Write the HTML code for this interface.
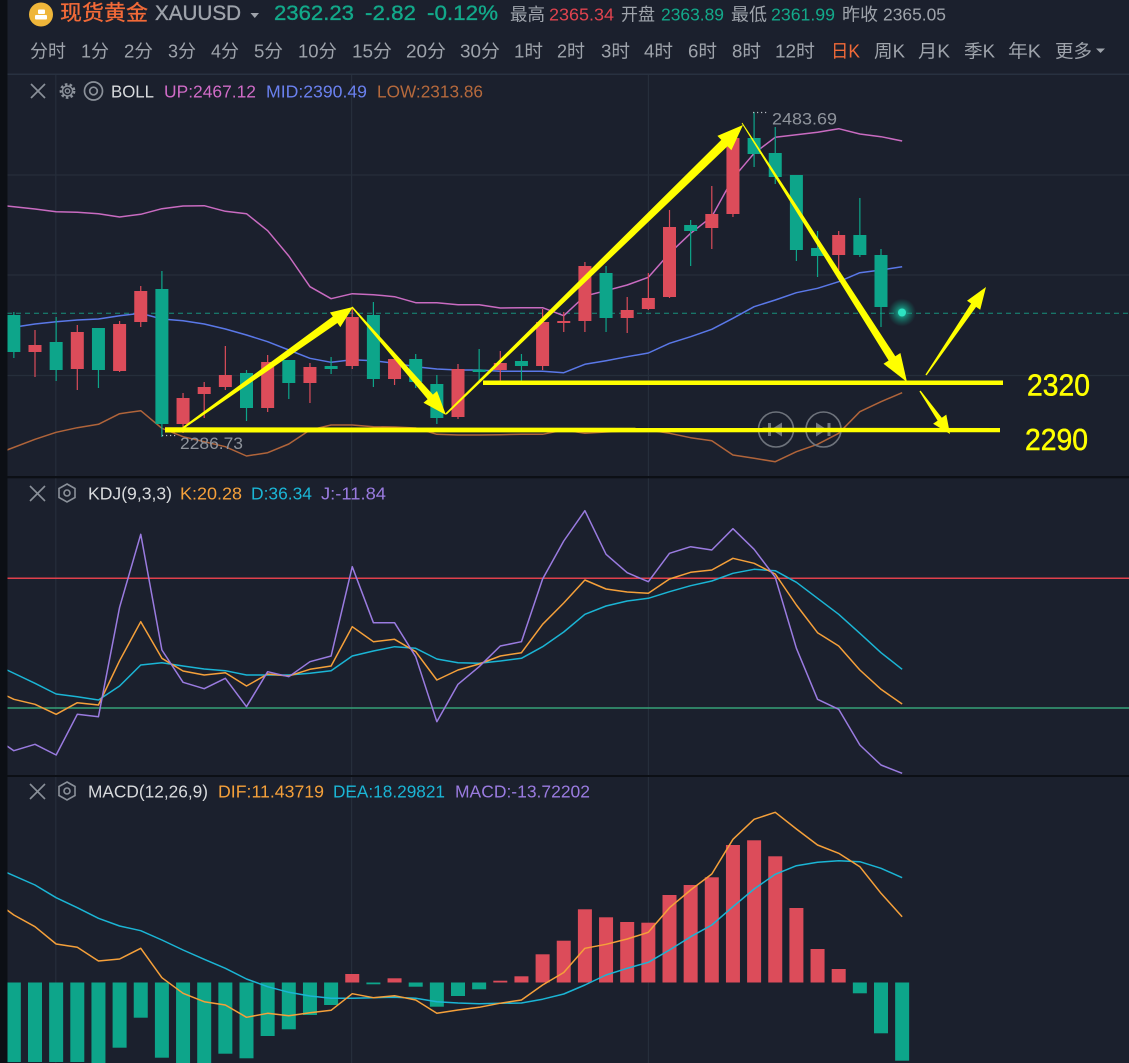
<!DOCTYPE html>
<html><head><meta charset="utf-8">
<style>
html,body{margin:0;padding:0;background:#1b202d;}
svg{display:block;}
text{font-family:"Liberation Sans","Noto Sans CJK SC",sans-serif;}
</style></head>
<body>
<svg width="1129" height="1063" viewBox="0 0 1129 1063" xmlns="http://www.w3.org/2000/svg">
<defs>
<radialGradient id="glow" cx="50%" cy="50%" r="50%">
<stop offset="0" stop-color="#26dcb9" stop-opacity="1"/>
<stop offset="0.4" stop-color="#14b093" stop-opacity="0.6"/>
<stop offset="1" stop-color="#0f8f78" stop-opacity="0"/>
</radialGradient>
</defs>
<rect x="0" y="0" width="1129" height="1063" fill="#1b202d"/>

<!-- header -->
<circle cx="41" cy="14.5" r="12" fill="#efb63a"/>
<rect x="35" y="15" width="12" height="4.5" rx="1" fill="#fff"/>
<rect x="38" y="9.5" width="7" height="4.5" rx="1" fill="#fff"/>
<g stroke-width="0.35">
<text x="60" y="20" font-size="21" fill="#f26a38" stroke="#f26a38" textLength="88" lengthAdjust="spacingAndGlyphs">现货黄金</text>
<text x="155" y="20" font-size="21" fill="#9ea3ab" stroke="#9ea3ab" textLength="86" lengthAdjust="spacingAndGlyphs">XAUUSD</text>
<text x="274" y="20" font-size="21" fill="#13a98a" stroke="#13a98a" textLength="80" lengthAdjust="spacingAndGlyphs">2362.23</text>
<text x="365" y="20" font-size="21" fill="#13a98a" stroke="#13a98a" textLength="51" lengthAdjust="spacingAndGlyphs">-2.82</text>
<text x="427" y="20" font-size="21" fill="#13a98a" stroke="#13a98a" textLength="71" lengthAdjust="spacingAndGlyphs">-0.12%</text>
</g>
<polygon points="250.5,13 259,13 254.8,18" fill="#9ea3ab"/>
<g font-size="17.5">
<text x="510" y="20.5" fill="#9ea3ab" textLength="35" lengthAdjust="spacingAndGlyphs">最高</text>
<text x="549" y="20.5" fill="#e0434f" textLength="65" lengthAdjust="spacingAndGlyphs">2365.34</text>
<text x="621" y="20.5" fill="#9ea3ab" textLength="34" lengthAdjust="spacingAndGlyphs">开盘</text>
<text x="661" y="20.5" fill="#13a98a" textLength="63" lengthAdjust="spacingAndGlyphs">2363.89</text>
<text x="731" y="20.5" fill="#9ea3ab" textLength="36" lengthAdjust="spacingAndGlyphs">最低</text>
<text x="771" y="20.5" fill="#13a98a" textLength="64" lengthAdjust="spacingAndGlyphs">2361.99</text>
<text x="842" y="20.5" fill="#9ea3ab" textLength="36" lengthAdjust="spacingAndGlyphs">昨收</text>
<text x="883" y="20.5" fill="#9ea3ab" textLength="63" lengthAdjust="spacingAndGlyphs">2365.05</text>
</g>
<g font-size="18" fill="#9ea3ab">
<text x="30" y="57.5" textLength="36" lengthAdjust="spacingAndGlyphs">分时</text>
<text x="81" y="57.5" textLength="28" lengthAdjust="spacingAndGlyphs">1分</text>
<text x="124" y="57.5" textLength="29" lengthAdjust="spacingAndGlyphs">2分</text>
<text x="168" y="57.5" textLength="28" lengthAdjust="spacingAndGlyphs">3分</text>
<text x="211" y="57.5" textLength="28" lengthAdjust="spacingAndGlyphs">4分</text>
<text x="254" y="57.5" textLength="29" lengthAdjust="spacingAndGlyphs">5分</text>
<text x="298" y="57.5" textLength="39" lengthAdjust="spacingAndGlyphs">10分</text>
<text x="352" y="57.5" textLength="40" lengthAdjust="spacingAndGlyphs">15分</text>
<text x="406" y="57.5" textLength="40" lengthAdjust="spacingAndGlyphs">20分</text>
<text x="460" y="57.5" textLength="40" lengthAdjust="spacingAndGlyphs">30分</text>
<text x="514" y="57.5" textLength="29" lengthAdjust="spacingAndGlyphs">1时</text>
<text x="557" y="57.5" textLength="28" lengthAdjust="spacingAndGlyphs">2时</text>
<text x="601" y="57.5" textLength="29" lengthAdjust="spacingAndGlyphs">3时</text>
<text x="644" y="57.5" textLength="29" lengthAdjust="spacingAndGlyphs">4时</text>
<text x="688" y="57.5" textLength="29" lengthAdjust="spacingAndGlyphs">6时</text>
<text x="732" y="57.5" textLength="29" lengthAdjust="spacingAndGlyphs">8时</text>
<text x="775" y="57.5" textLength="40" lengthAdjust="spacingAndGlyphs">12时</text>
<text x="831" y="57.5" textLength="29" lengthAdjust="spacingAndGlyphs" fill="#f26a38">日K</text>
<text x="874" y="57.5" textLength="31" lengthAdjust="spacingAndGlyphs">周K</text>
<text x="918" y="57.5" textLength="32" lengthAdjust="spacingAndGlyphs">月K</text>
<text x="964" y="57.5" textLength="31" lengthAdjust="spacingAndGlyphs">季K</text>
<text x="1008" y="57.5" textLength="33" lengthAdjust="spacingAndGlyphs">年K</text>
<text x="1055" y="57.5" textLength="37" lengthAdjust="spacingAndGlyphs">更多</text>
</g>
<polygon points="1096,48.5 1105,48.5 1100.5,53" fill="#9ea3ab"/>
<rect x="0" y="73.5" width="1129" height="1.5" fill="#283140"/>

<!-- grid -->
<g stroke="#262e3b" stroke-width="1.2">
<line x1="55.8" y1="75" x2="55.8" y2="1063"/>
<line x1="351.6" y1="75" x2="351.6" y2="1063"/>
<line x1="648.4" y1="75" x2="648.4" y2="1063"/>
<line x1="0" y1="175" x2="1129" y2="175"/>
<line x1="0" y1="275" x2="1129" y2="275"/>
<line x1="0" y1="375.5" x2="1129" y2="375.5"/>
</g>

<!-- BOLL legend -->
<g stroke="#8a9099" stroke-width="1.7" fill="none">
<line x1="31" y1="84" x2="45" y2="98"/><line x1="45" y1="84" x2="31" y2="98"/>
<circle cx="67.5" cy="91" r="6.3" stroke-dasharray="2.4 2.1" stroke-width="3.2"/>
<circle cx="67.5" cy="91" r="5" stroke-width="1.4"/>
<circle cx="67.5" cy="91" r="2.2" stroke-width="1.4"/>
<circle cx="93.5" cy="91" r="9"/>
<circle cx="93.5" cy="91" r="3.8"/>
</g>
<g font-size="17.5">
<text x="111" y="97.5" fill="#d8dadd" textLength="43" lengthAdjust="spacingAndGlyphs">BOLL</text>
<text x="164" y="97.5" fill="#cf6bc6" textLength="92" lengthAdjust="spacingAndGlyphs">UP:2467.12</text>
<text x="266" y="97.5" fill="#6a80ee" textLength="101" lengthAdjust="spacingAndGlyphs">MID:2390.49</text>
<text x="377" y="97.5" fill="#b5693c" textLength="106" lengthAdjust="spacingAndGlyphs">LOW:2313.86</text>
</g>

<!-- dashed current price line -->
<line x1="7" y1="313.3" x2="1129" y2="313.3" stroke="#17907c" stroke-width="1" stroke-dasharray="5 4"/>

<!-- BOLL lines -->
<g fill="none" stroke-width="1.5" stroke-linejoin="round">
<polyline stroke="#c96bc1" points="7,206 35,209 56.15,211.7 77.3,212.3 98.45,213.7 119.6,217 140.75,214.3 161.9,208.7 183.05,206 204.2,205.7 225.35,211.3 246.5,213.7 267.65,230.7 288.8,256 309.95,286.7 331.1,298.7 352.25,293.7 373.4,294.7 394.55,296.7 415.7,302.7 436.85,302.7 458,304.7 479.15,304.7 500.3,308 521.45,307.7 542.6,307.7 563.75,315.7 584.9,296 606.05,290.7 627.2,285 648.35,277.3 669.5,253.3 690.65,233.3 711.8,216.7 732.95,178.3 754.1,153.3 775.25,137.3 796.4,134.7 817.55,132.3 838.7,128.7 859.85,134 881,136.7 902.15,141"/>
<polyline stroke="#5a78e8" points="7,328.3 35,324 56.15,321.7 77.3,320 98.45,319 119.6,315.7 140.75,313.3 161.9,319 183.05,320.7 204.2,324 225.35,329 246.5,335 267.65,341.7 288.8,350 309.95,358.3 331.1,362.3 352.25,359.7 373.4,360.7 394.55,363.3 415.7,366.7 436.85,369 458,370 479.15,370 500.3,371.3 521.45,371.3 542.6,371.3 563.75,372.7 584.9,364.3 606.05,360.7 627.2,356.7 648.35,353 669.5,343.3 690.65,336.7 711.8,329.3 732.95,318.3 754.1,306.7 775.25,300 796.4,292.7 817.55,288.3 838.7,281.7 859.85,272.7 881,270 902.15,266.7"/>
<polyline stroke="#b0643a" points="7,450 35,439.3 56.15,432.3 77.3,427.7 98.45,424.3 119.6,413.7 140.75,410.7 161.9,428.3 183.05,436.7 204.2,441.7 225.35,446.7 246.5,456 267.65,452.7 288.8,444 309.95,430 331.1,425 352.25,425 373.4,426.7 394.55,427 415.7,428 436.85,434.3 458,435 479.15,435 500.3,434.7 521.45,434.3 542.6,434.3 563.75,430 584.9,433.3 606.05,432 627.2,431 648.35,430 669.5,433.3 690.65,437.7 711.8,440.7 732.95,455 754.1,458.3 775.25,461.7 796.4,451.7 817.55,444.3 838.7,433.3 859.85,411.7 881,401.7 902.15,392.7"/>
</g>

<!-- candles -->
<g stroke="#0da58a" stroke-width="1.2">
<line x1="13.85" y1="312" x2="13.85" y2="358"/>
<line x1="56.15" y1="317" x2="56.15" y2="381"/>
<line x1="98.45" y1="328" x2="98.45" y2="388"/>
<line x1="161.9" y1="271" x2="161.9" y2="437"/>
<line x1="246.5" y1="370" x2="246.5" y2="421"/>
<line x1="288.8" y1="360" x2="288.8" y2="399"/>
<line x1="331.1" y1="357" x2="331.1" y2="374"/>
<line x1="373.4" y1="302" x2="373.4" y2="387"/>
<line x1="415.7" y1="354" x2="415.7" y2="388"/>
<line x1="436.85" y1="375" x2="436.85" y2="424"/>
<line x1="479.15" y1="349" x2="479.15" y2="383"/>
<line x1="521.45" y1="354" x2="521.45" y2="382"/>
<line x1="606.05" y1="266" x2="606.05" y2="332"/>
<line x1="690.65" y1="220" x2="690.65" y2="266"/>
<line x1="754.1" y1="112" x2="754.1" y2="167"/>
<line x1="775.25" y1="127" x2="775.25" y2="184"/>
<line x1="796.4" y1="175" x2="796.4" y2="261"/>
<line x1="817.55" y1="231" x2="817.55" y2="277"/>
<line x1="859.85" y1="198" x2="859.85" y2="257"/>
<line x1="881" y1="249" x2="881" y2="327"/>
</g>
<g fill="#0da58a">
<rect x="7.35" y="315" width="13" height="37"/>
<rect x="49.65" y="342" width="13" height="28"/>
<rect x="91.95" y="328" width="13" height="42"/>
<rect x="155.4" y="289" width="13" height="135"/>
<rect x="240" y="373" width="13" height="35"/>
<rect x="282.3" y="360" width="13" height="23"/>
<rect x="324.6" y="366" width="13" height="3"/>
<rect x="366.9" y="315" width="13" height="64"/>
<rect x="409.2" y="359" width="13" height="23"/>
<rect x="430.35" y="384" width="13" height="34"/>
<rect x="472.65" y="369.5" width="13" height="2.5"/>
<rect x="514.95" y="361" width="13" height="5"/>
<rect x="599.55" y="273" width="13" height="45"/>
<rect x="684.15" y="225" width="13" height="6"/>
<rect x="747.6" y="138" width="13" height="16"/>
<rect x="768.75" y="153" width="13" height="24"/>
<rect x="789.9" y="175" width="13" height="75"/>
<rect x="811.05" y="248" width="13" height="8"/>
<rect x="853.35" y="235" width="13" height="20"/>
<rect x="874.5" y="255" width="13" height="52"/>
</g>
<g stroke="#dc4c5a" stroke-width="1.2">
<line x1="35" y1="330" x2="35" y2="377"/>
<line x1="77.3" y1="325" x2="77.3" y2="390"/>
<line x1="119.6" y1="321" x2="119.6" y2="372"/>
<line x1="140.75" y1="286" x2="140.75" y2="327"/>
<line x1="183.05" y1="393" x2="183.05" y2="433"/>
<line x1="204.2" y1="382" x2="204.2" y2="418"/>
<line x1="225.35" y1="346" x2="225.35" y2="390"/>
<line x1="267.65" y1="355" x2="267.65" y2="412"/>
<line x1="309.95" y1="363" x2="309.95" y2="403"/>
<line x1="352.25" y1="307" x2="352.25" y2="369"/>
<line x1="394.55" y1="358" x2="394.55" y2="385"/>
<line x1="458" y1="364" x2="458" y2="419"/>
<line x1="500.3" y1="351" x2="500.3" y2="382"/>
<line x1="542.6" y1="309" x2="542.6" y2="370"/>
<line x1="563.75" y1="312" x2="563.75" y2="332"/>
<line x1="584.9" y1="262" x2="584.9" y2="332"/>
<line x1="627.2" y1="297" x2="627.2" y2="333"/>
<line x1="648.35" y1="273" x2="648.35" y2="310"/>
<line x1="669.5" y1="210" x2="669.5" y2="298"/>
<line x1="711.8" y1="186" x2="711.8" y2="249"/>
<line x1="732.95" y1="138" x2="732.95" y2="217"/>
<line x1="838.7" y1="231" x2="838.7" y2="270"/>
</g>
<g fill="#dc4c5a">
<rect x="28.5" y="345" width="13" height="7"/>
<rect x="70.8" y="332" width="13" height="37"/>
<rect x="113.1" y="324" width="13" height="47"/>
<rect x="134.25" y="291" width="13" height="31"/>
<rect x="176.55" y="398" width="13" height="26"/>
<rect x="197.7" y="387" width="13" height="7"/>
<rect x="218.85" y="375" width="13" height="12"/>
<rect x="261.15" y="362" width="13" height="46"/>
<rect x="303.45" y="367" width="13" height="16"/>
<rect x="345.75" y="317" width="13" height="49"/>
<rect x="388.05" y="359" width="13" height="20"/>
<rect x="451.5" y="369" width="13" height="48"/>
<rect x="493.8" y="363" width="13" height="7"/>
<rect x="536.1" y="322" width="13" height="44"/>
<rect x="557.25" y="321" width="13" height="2"/>
<rect x="578.4" y="266" width="13" height="55"/>
<rect x="620.7" y="310" width="13" height="8"/>
<rect x="641.85" y="298" width="13" height="11"/>
<rect x="663" y="227" width="13" height="70"/>
<rect x="705.3" y="214" width="13" height="14"/>
<rect x="726.45" y="138" width="13" height="76"/>
<rect x="832.2" y="235" width="13" height="20"/>
</g>

<!-- glow dot -->
<circle cx="902" cy="312.5" r="14" fill="url(#glow)"/>
<circle cx="902" cy="312.5" r="4" fill="#2ee3c2"/>

<!-- hi/lo labels -->
<line x1="162" y1="435.5" x2="178" y2="435.5" stroke="#b8bcc2" stroke-width="1.2" stroke-dasharray="1.2 2.8"/>
<text x="180" y="449" font-size="17" fill="#8f949c" textLength="63" lengthAdjust="spacingAndGlyphs">2286.73</text>
<line x1="753" y1="112.5" x2="769" y2="112.5" stroke="#b8bcc2" stroke-width="1.2" stroke-dasharray="1.2 2.8"/>
<text x="772" y="124.5" font-size="17" fill="#8f949c" textLength="65" lengthAdjust="spacingAndGlyphs">2483.69</text>

<!-- playback buttons -->
<g stroke="#6e737c" stroke-width="1.6" fill="none">
<circle cx="776" cy="429.5" r="17.5"/>
<circle cx="823.5" cy="429.5" r="17.5"/>
</g>
<g fill="#70757e">
<rect x="768" y="423" width="3" height="13"/>
<polygon points="771,429.5 782,422.5 782,436.5"/>
<polygon points="816,422.5 827,429.5 816,436.5"/>
<rect x="827.5" y="423" width="3" height="13"/>
</g>

<!-- yellow annotations -->
<g fill="#ffff00">
<rect x="483" y="380.5" width="520" height="4.5"/>
<polygon points="165,427.3 1000,428 1000,432.2 165,432.5"/>
<polygon points="183.6,428.8 337.4,323.0 340.3,327.1 353,307 329.9,312.5 332.8,316.5 182.4,427.2"/>
<polygon points="351.5,307.5 427.6,399.2 423.5,402.8 446,415 437.0,391.0 432.9,394.6 352.5,306.5"/>
<polygon points="446.6,414.6 727.5,146.3 731.4,150.3 743,125 717.4,135.9 721.3,139.9 445.4,413.4"/>
<polygon points="741.6,123.3 888.6,360.5 883.5,363.8 907,382 900.4,353.0 895.3,356.3 742.4,122.7"/>
<polygon points="926.6,375.4 976.1,306.9 980.2,309.7 986,287 967.0,300.7 971.1,303.5 925.4,374.6"/>
<polygon points="919.4,391.4 937.6,420.6 933.1,423.8 950,434 946.3,414.6 941.8,417.8 920.6,390.6"/>
</g>
<g stroke="#ffff00" stroke-width="0.5">
<text x="1027" y="395.5" font-size="31" fill="#ffff00" textLength="63" lengthAdjust="spacingAndGlyphs">2320</text>
<text x="1025" y="450" font-size="31" fill="#ffff00" textLength="63" lengthAdjust="spacingAndGlyphs">2290</text>
</g>

<!-- panel separators -->
<rect x="0" y="476" width="1129" height="2.3" fill="#0c0f15"/>
<rect x="0" y="775" width="1129" height="2" fill="#0c0f15"/>

<!-- KDJ -->
<g stroke="#8a9099" stroke-width="1.6" fill="none">
<line x1="30" y1="486" x2="45" y2="501"/><line x1="45" y1="486" x2="30" y2="501"/>
<polygon points="67,484 75,488.5 75,497.5 67,502 59,497.5 59,488.5"/>
<circle cx="67" cy="493" r="3"/>
</g>
<g font-size="17.5">
<text x="88" y="499.5" fill="#d8dadd" textLength="84" lengthAdjust="spacingAndGlyphs">KDJ(9,3,3)</text>
<text x="180" y="499.5" fill="#f5a03a" textLength="62" lengthAdjust="spacingAndGlyphs">K:20.28</text>
<text x="251" y="499.5" fill="#1bb5d5" textLength="61" lengthAdjust="spacingAndGlyphs">D:36.34</text>
<text x="321" y="499.5" fill="#9a7be0" textLength="65" lengthAdjust="spacingAndGlyphs">J:-11.84</text>
</g>
<line x1="7" y1="578.3" x2="1129" y2="578.3" stroke="#e0404c" stroke-width="1.5"/>
<line x1="7" y1="708" x2="1129" y2="708" stroke="#36a178" stroke-width="1.6"/>
<g fill="none" stroke-width="1.5" stroke-linejoin="round">
<polyline stroke="#1bb5d5" points="7,670 35,683.3 56.15,694 77.3,696.7 98.45,700 119.6,686 140.75,665 161.9,662.7 183.05,666 204.2,669 225.35,670.7 246.5,675 267.65,675 288.8,675 309.95,673.3 331.1,670.7 352.25,656 373.4,651 394.55,646.7 415.7,648.3 436.85,659 458,662.7 479.15,663.3 500.3,661 521.45,658.3 542.6,646.7 563.75,632 584.9,614.3 606.05,606 627.2,601 648.35,598.3 669.5,591.7 690.65,585.7 711.8,581 732.95,573.3 754.1,569.3 775.25,570.7 796.4,582.3 817.55,598.3 838.7,614.3 859.85,633.3 881,652.7 902.15,669.3"/>
<polyline stroke="#f5a03a" points="7,696 13.85,699.3 35,704.3 56.15,714.3 77.3,702.7 98.45,705 119.6,660.7 140.75,621.7 161.9,658.3 183.05,671 204.2,675 225.35,672.7 246.5,686 267.65,674 288.8,676 309.95,669.3 331.1,666 352.25,626.7 373.4,641.7 394.55,639.3 415.7,651.7 436.85,680 458,670 479.15,664 500.3,656 521.45,652.7 542.6,624.3 563.75,603 584.9,580 606.05,589 627.2,592 648.35,593.3 669.5,579 690.65,572.3 711.8,570 732.95,558.3 754.1,563.3 775.25,574 796.4,605 817.55,632.7 838.7,646 859.85,670 881,689.3 902.15,704"/>
<polyline stroke="#9a7be0" points="7,746 13.85,750.7 35,744.3 56.15,755 77.3,714.3 98.45,716.7 119.6,607.3 140.75,534.3 161.9,650 183.05,682.3 204.2,688.7 225.35,678.3 246.5,706.7 267.65,671.7 288.8,676.7 309.95,661.7 331.1,656 352.25,566.7 373.4,622.7 394.55,622.7 415.7,656.7 436.85,721.7 458,684.3 479.15,666.7 500.3,646 521.45,641.7 542.6,579 563.75,541 584.9,510.7 606.05,554.3 627.2,572.7 648.35,581.7 669.5,553.3 690.65,546.7 711.8,550 732.95,528.7 754.1,549.3 775.25,577.3 796.4,648.3 817.55,699.3 838.7,709.3 859.85,745 881,765 902.15,773.3"/>
</g>

<!-- MACD -->
<g stroke="#8a9099" stroke-width="1.6" fill="none">
<line x1="30" y1="784" x2="45" y2="799"/><line x1="45" y1="784" x2="30" y2="799"/>
<polygon points="67,782 75,786.5 75,795.5 67,800 59,795.5 59,786.5"/>
<circle cx="67" cy="791" r="3"/>
</g>
<g font-size="17.5">
<text x="88" y="797.5" fill="#d8dadd" textLength="120" lengthAdjust="spacingAndGlyphs">MACD(12,26,9)</text>
<text x="218" y="797.5" fill="#f5a03a" textLength="106" lengthAdjust="spacingAndGlyphs">DIF:11.43719</text>
<text x="333" y="797.5" fill="#1bb5d5" textLength="112" lengthAdjust="spacingAndGlyphs">DEA:18.29821</text>
<text x="455" y="797.5" fill="#9a7be0" textLength="135" lengthAdjust="spacingAndGlyphs">MACD:-13.72202</text>
</g>
<g fill="#0da58a">
<rect x="6.85" y="982.5" width="14" height="79.5"/>
<rect x="28" y="982.5" width="14" height="79.5"/>
<rect x="49.15" y="982.5" width="14" height="79.5"/>
<rect x="70.3" y="982.5" width="14" height="79.5"/>
<rect x="91.45" y="982.5" width="14" height="80.5"/>
<rect x="112.6" y="982.5" width="14" height="65.2"/>
<rect x="133.75" y="982.5" width="14" height="35.2"/>
<rect x="154.9" y="982.5" width="14" height="75.2"/>
<rect x="176.05" y="982.5" width="14" height="80.5"/>
<rect x="197.2" y="982.5" width="14" height="80.5"/>
<rect x="218.35" y="982.5" width="14" height="71.2"/>
<rect x="239.5" y="982.5" width="14" height="75.8"/>
<rect x="260.65" y="982.5" width="14" height="53.5"/>
<rect x="281.8" y="982.5" width="14" height="46.8"/>
<rect x="302.95" y="982.5" width="14" height="32.5"/>
<rect x="324.1" y="982.5" width="14" height="22.5"/>
<rect x="366.4" y="982.5" width="14" height="1.8"/>
<rect x="408.7" y="982.5" width="14" height="4.2"/>
<rect x="429.85" y="982.5" width="14" height="24.2"/>
<rect x="451" y="982.5" width="14" height="13.5"/>
<rect x="472.15" y="982.5" width="14" height="6.8"/>
<rect x="852.85" y="982.5" width="14" height="10.8"/>
<rect x="874" y="982.5" width="14" height="50.8"/>
<rect x="895.15" y="982.5" width="14" height="78.2"/>
</g>
<g fill="#dc4c5a">
<rect x="345.25" y="974" width="14" height="8.5"/>
<rect x="387.55" y="978.3" width="14" height="4.2"/>
<rect x="493.3" y="980.7" width="14" height="1.8"/>
<rect x="514.45" y="976.3" width="14" height="6.2"/>
<rect x="535.6" y="954.3" width="14" height="28.2"/>
<rect x="556.75" y="940.7" width="14" height="41.8"/>
<rect x="577.9" y="909.3" width="14" height="73.2"/>
<rect x="599.05" y="917.3" width="14" height="65.2"/>
<rect x="620.2" y="922" width="14" height="60.5"/>
<rect x="641.35" y="922.7" width="14" height="59.8"/>
<rect x="662.5" y="895" width="14" height="87.5"/>
<rect x="683.65" y="885" width="14" height="97.5"/>
<rect x="704.8" y="877.3" width="14" height="105.2"/>
<rect x="725.95" y="845" width="14" height="137.5"/>
<rect x="747.1" y="840.3" width="14" height="142.2"/>
<rect x="768.25" y="856.3" width="14" height="126.2"/>
<rect x="789.4" y="908" width="14" height="74.5"/>
<rect x="810.55" y="949" width="14" height="33.5"/>
<rect x="831.7" y="969" width="14" height="13.5"/>
</g>
<g fill="none" stroke-width="1.5" stroke-linejoin="round">
<polyline stroke="#1bb5d5" points="7,872.7 35,885 56.15,897.7 77.3,907.7 98.45,918.3 119.6,926 140.75,930.7 161.9,940 183.05,950 204.2,959.3 225.35,968.3 246.5,979 267.65,986.7 288.8,992.3 309.95,996 331.1,998.3 352.25,998.3 373.4,997.7 394.55,997.3 415.7,998.3 436.85,1001.7 458,1003 479.15,1003.7 500.3,1003.3 521.45,1003 542.6,999.2 563.75,994 584.9,985 606.05,975 627.2,968.3 648.35,962.3 669.5,950 690.65,936.7 711.8,925 732.95,906.7 754.1,889 775.25,874.3 796.4,865.7 817.55,862.3 838.7,860.7 859.85,861.7 881,868.3 902.15,877.7"/>
<polyline stroke="#f5a03a" points="7,910 13.85,915 35,926.7 56.15,944 77.3,947.3 98.45,961 119.6,959 140.75,948.3 161.9,977.7 183.05,993.3 204.2,1001.7 225.35,1005 246.5,1017.3 267.65,1013.3 288.8,1015.7 309.95,1012.7 331.1,1010.3 352.25,993.7 373.4,997.7 394.55,995.7 415.7,1000 436.85,1013.3 458,1010 479.15,1007.3 500.3,1003.2 521.45,1000 542.6,985 563.75,972.5 584.9,948.3 606.05,944.3 627.2,939 648.35,932.3 669.5,907.7 690.65,890 711.8,874 732.95,839.3 754.1,819.3 775.25,812.3 796.4,829 817.55,845 838.7,853.3 859.85,866.7 881,893.3 902.15,916.7"/>
</g>

<!-- left black strip -->
<rect x="0" y="0" width="7.5" height="1063" fill="#0c0f15"/>
</svg>
</body></html>
